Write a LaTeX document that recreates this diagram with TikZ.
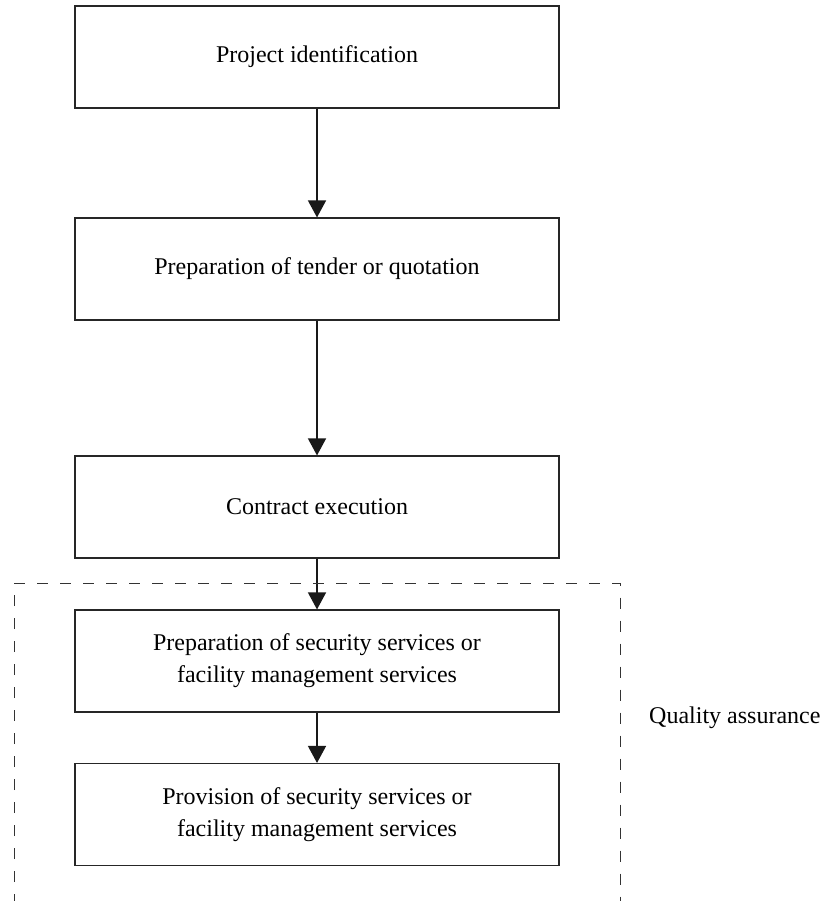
\documentclass[tikz,border=0pt]{standalone}
\usepackage{fontspec}
\setmainfont{Liberation Serif}
\usetikzlibrary{arrows.meta}
\begin{document}
\begin{tikzpicture}[x=1pt,y=-1pt,
  stepbox/.style={draw=black!85, line width=1.1pt, minimum width=484pt, minimum height=102pt,
    inner sep=0pt, align=center, font=\fontsize{24}{32}\selectfont},
  flow/.style={line width=1.4pt, draw=black!90, -{Triangle[width=18pt,length=17pt]}},
  qa/.style={draw=black!80, line width=1pt, dash pattern=on 11pt off 12pt}]
\useasboundingbox (0,0) rectangle (826,901);
\node[stepbox] (b1) at (317,57) {Project identification};
\node[stepbox] (b2) at (317,269) {Preparation of tender or quotation};
\node[stepbox] (b3) at (317,507) {Contract execution};
\node[stepbox] (b4) at (317,661) {Preparation of security services or\\facility management services};
\node[stepbox] (b5) at (317,814.5) {Provision of security services or\\facility management services};
\draw[flow] (b1.south) -- (b2.north);
\draw[flow] (b2.south) -- (b3.north);
\draw[flow] (b3.south) -- (b4.north);
\draw[flow] (b4.south) -- (b5.north);
\coordinate (qbl) at (14,905);
\coordinate (qtl) at (14,583);
\coordinate (qtr) at (620.5,583);
\coordinate (qbr) at (620.5,905);
\draw[qa] (qbl) -- (qtl) -- (qtr) -- (qbr);
\node[anchor=west, inner sep=0pt, font=\fontsize{24}{32}\selectfont] (qlabel) at (649,718) {Quality assurance};
\end{tikzpicture}
\end{document}
